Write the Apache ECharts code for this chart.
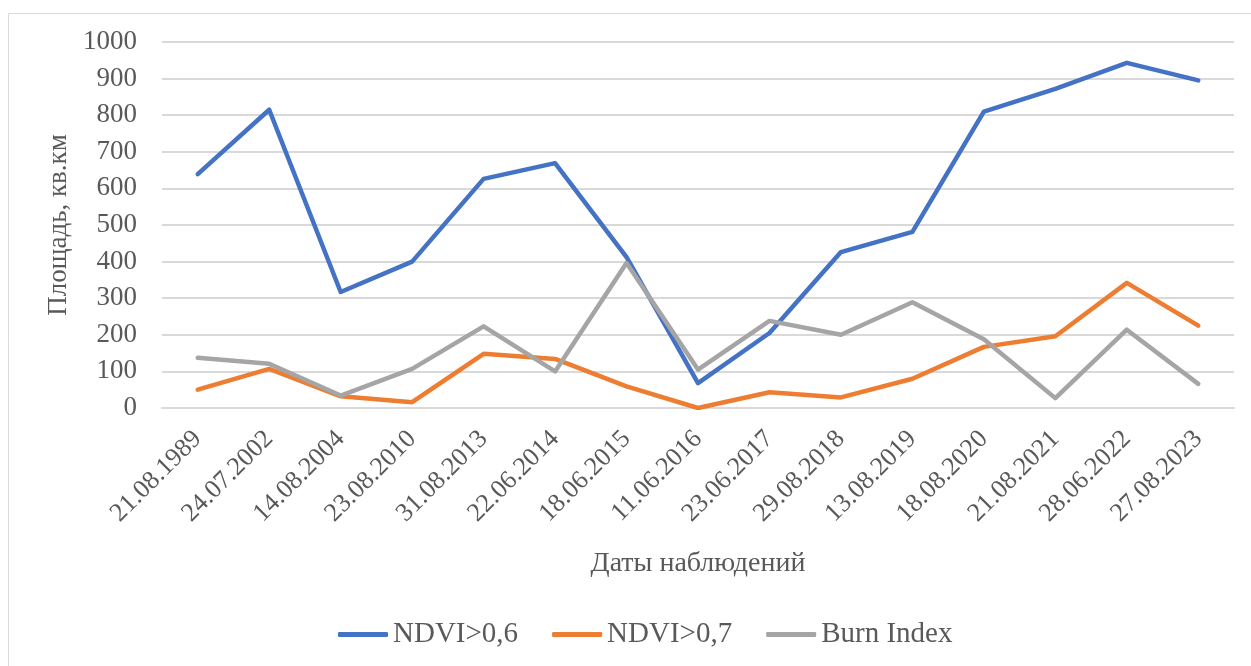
<!DOCTYPE html>
<html>
<head>
<meta charset="utf-8">
<script src="https://cdn.jsdelivr.net/npm/echarts@6/dist/echarts.min.js"></script>
<style>
  html, body { margin: 0; padding: 0; background: #fff; }
  #chart { width: 1251px; height: 666px; }
</style>
</head>
<body>
<div id="chart"></div>
<script>
const dates = ["21.08.1989", "24.07.2002", "14.08.2004", "23.08.2010", "31.08.2013", "22.06.2014", "18.06.2015",
  "11.06.2016", "23.06.2017", "29.08.2018", "13.08.2019", "18.08.2020", "21.08.2021", "28.06.2022", "27.08.2023"];
const ndvi06 = [639, 815, 317, 400, 626, 669, 412, 68, 205, 426, 481, 810, 872, 943, 895];
const ndvi07 = [50, 107, 32, 16, 148, 134, 59, 0, 43, 29, 80, 167, 196, 342, 225];
const burnIndex = [137, 121, 34, 107, 223, 100, 396, 105, 238, 200, 289, 188, 27, 214, 66];

const font = "Liberation Serif";
const textColor = "#595959";
const lineStyle = { width: 4.5, cap: "round", join: "round" };

const chart = echarts.init(document.getElementById("chart"));
chart.setOption({
  animation: false,
  color: ["#4472C4", "#ED7D31", "#A5A5A5"],
  textStyle: { fontFamily: font, color: textColor },
  graphic: [{
    type: "rect",
    shape: { x: 8.5, y: 13.5, width: 1300, height: 700 },
    style: { fill: "none", stroke: "#d9d9d9", lineWidth: 1 },
    silent: true,
  }],
  grid: { left: 162, right: 17, top: 42, bottom: 258 },
  legend: {
    top: 615,
    left: 333,
    icon: "roundRect",
    itemWidth: 50,
    itemHeight: 5,
    itemGap: 34,
    textStyle: { fontFamily: font, fontSize: 29, color: textColor },
  },
  xAxis: {
    type: "category",
    data: dates,
    name: "Даты наблюдений",
    nameLocation: "middle",
    nameGap: 142,
    nameTextStyle: { fontFamily: font, fontSize: 28, color: textColor },
    axisLine: { lineStyle: { color: "#d9d9d9", width: 2 } },
    axisTick: { show: false },
    axisLabel: { rotate: 45, margin: 27, fontFamily: font, fontSize: 26, color: textColor, interval: 0 },
  },
  yAxis: {
    type: "value",
    min: 0,
    max: 1000,
    interval: 100,
    name: "Площадь, кв.км",
    nameLocation: "middle",
    nameGap: 90,
    nameTextStyle: { fontFamily: font, fontSize: 27, color: textColor },
    axisLabel: { margin: 25, fontFamily: font, fontSize: 27, color: textColor, formatter: (v) => String(v) },
    splitLine: { lineStyle: { color: "#d9d9d9", width: 2 } },
  },
  series: [
    { name: "NDVI>0,6", type: "line", data: ndvi06, symbol: "none", lineStyle },
    { name: "NDVI>0,7", type: "line", data: ndvi07, symbol: "none", lineStyle },
    { name: "Burn Index", type: "line", data: burnIndex, symbol: "none", lineStyle },
  ],
});
</script>
</body>
</html>
